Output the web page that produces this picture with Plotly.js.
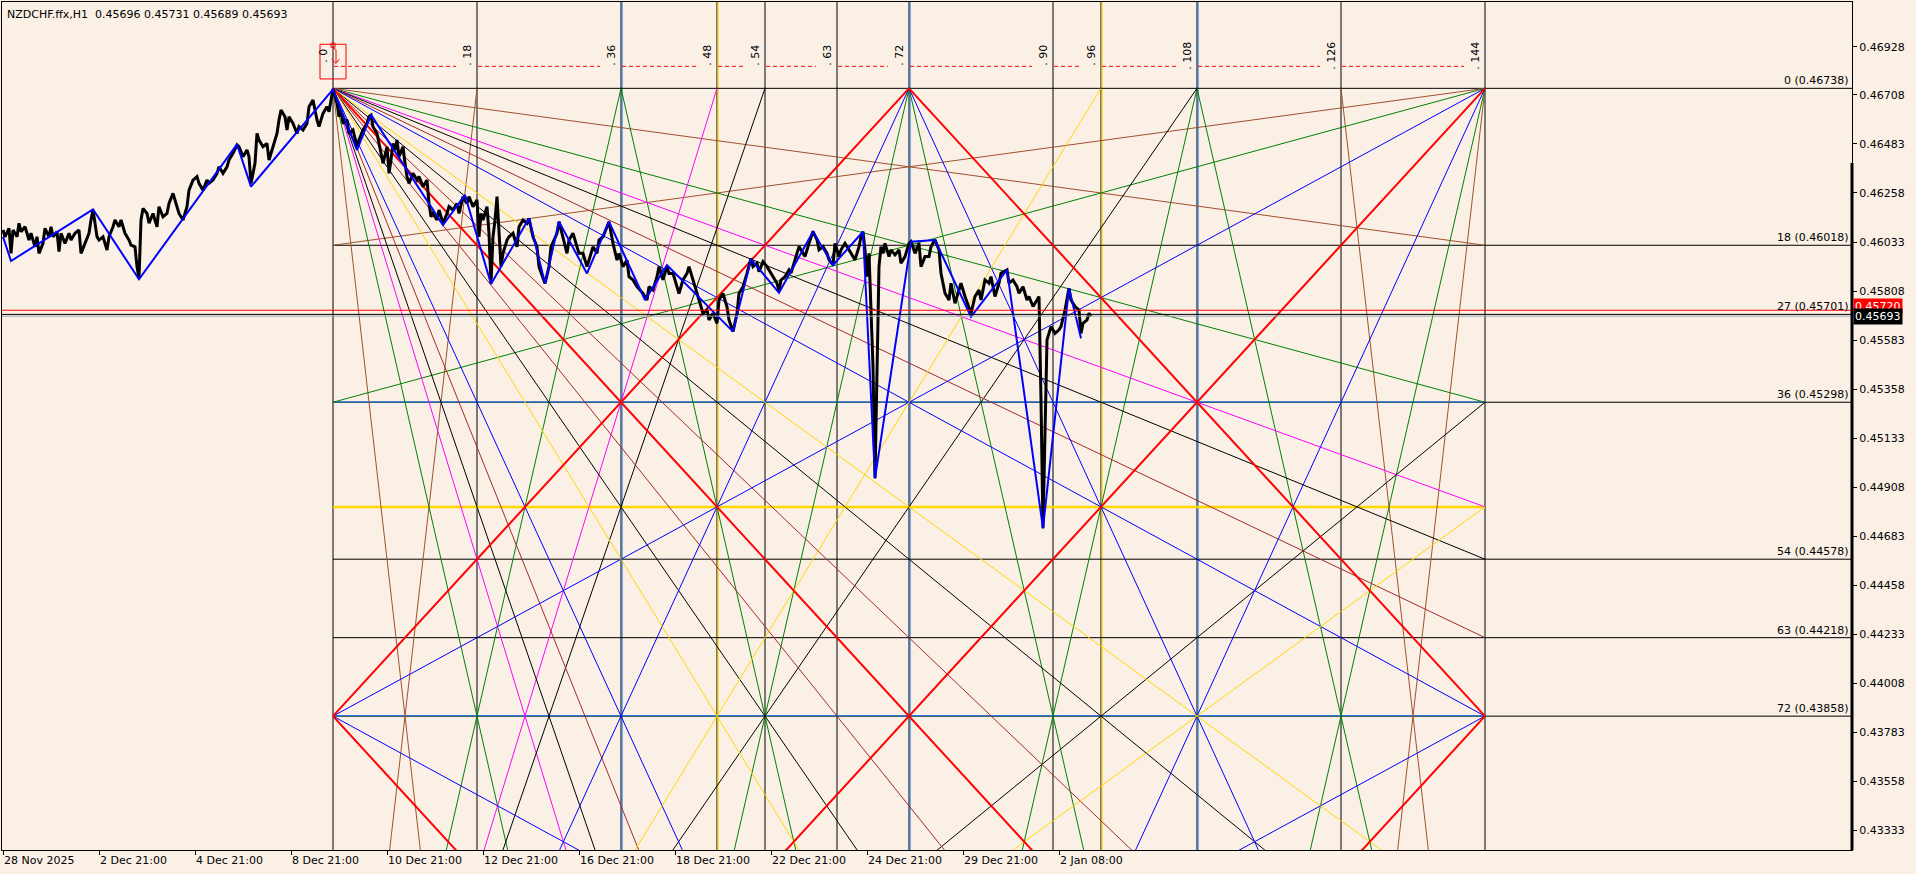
<!DOCTYPE html>
<html><head><meta charset="utf-8">
<script src="https://cdn.plot.ly/plotly-3.0.1.min.js"></script>
<style>html,body{margin:0;padding:0;background:#FAF0E6;}#chart{width:1916px;height:874px;}</style>
</head><body><div id="chart"></div><script>
// ---------- data ----------
const chartTitle = 'NZDCHF.ffx,H1  0.45696 0.45731 0.45689 0.45693';
const xTickBars = [0,48,96,144,192,240,288,336,384,432,480,528];
const xTickLabels = ['28 Nov 2025','2 Dec 21:00','4 Dec 21:00','8 Dec 21:00','10 Dec 21:00','12 Dec 21:00','16 Dec 21:00','18 Dec 21:00','22 Dec 21:00','24 Dec 21:00','29 Dec 21:00','2 Jan 08:00'];
const yTickValues = [0.46928,0.46708,0.46483,0.46258,0.46033,0.45808,0.45583,0.45358,0.45133,0.44908,0.44683,0.44458,0.44233,0.44008,0.43783,0.43558,0.43333];

const closeBars = [0,1,3,4,5,7,8,9,11,13,14,16,17,18,20,21,23,24,25,27,28,29,31,33,34,36,38,39,41,43,44,45,46,47,48,50,52,53,55,56,58,59,61,63,64,66,67,68,69,70,72,73,75,77,78,80,82,83,85,87,88,90,92,93,95,97,98,100,102,103,105,107,108,110,112,113,115,117,118,120,122,123,124,126,127,128,130,132,133,135,137,138,139,141,142,143,145,147,148,150,152,153,155,157,158,160,162,163,164,165,
167,168,169,170,172,173,175,177,178,180,182,183,184,185,187,188,189,190,192,193,194,195,196,197,198,200,201,202,203,205,207,208,210,212,213,214,215,217,218,220,222,223,225,227,228,230,232,233,235,237,238,239,240,242,243,244,245,246,247,248,249,250,252,253,255,257,258,260,262,263,264,265,267,268,271,273,274,277,278,280,282,283,285,287,288,290,292,293,295,297,298,300,303,305,307,308,310,312,313,315,317,320,322,323,325,327,328,330,332,333,335,337,338,340,342,343,345,347,348,350,352,353,355,357,358,360,362,363,365,367,368,370,372,
374,375,377,378,380,382,383,385,387,388,389,391,393,394,396,398,399,401,403,405,407,408,410,412,413,415,416,418,419,421,423,424,426,428,429,430,431,432,433,434,435,436,437,438,439,440,441,443,444,446,448,449,451,453,454,456,458,459,461,463,464,466,468,469,471,473,474,476,478,479,481,483,484,486,488,489,491,493,494,496,498,499,502,503,505,507,508,510,512,513,515,517,518,519,520,521,522,523,524,526,528,529,531,533,534,536,538,539,540,542,543,544];
const closePrices = [0.46088,0.46057,0.46096,0.45981,0.46088,0.46057,0.46119,0.46080,0.46103,0.46042,0.46073,0.46011,0.46057,0.45981,0.46027,0.46096,0.46057,0.46103,0.46057,0.46080,0.45989,0.46073,0.46027,0.46073,0.46042,0.46073,0.46088,0.45981,0.46027,0.46073,0.46134,0.46180,0.46119,0.46057,0.46042,0.46057,0.45996,0.46057,0.46103,0.46134,0.46103,0.46134,0.46073,0.46042,0.46019,0.46011,0.45920,0.45866,0.46134,0.46187,0.46164,0.46119,0.46164,0.46103,0.46195,0.46149,0.46164,0.46210,0.46256,0.46195,0.46164,0.46134,0.46195,0.46271,0.46317,0.46333,0.46302,0.46271,0.46317,0.46302,0.46317,0.46348,0.46378,0.46348,0.46378,0.46409,0.46440,0.46478,0.46470,0.46424,0.46455,0.46424,0.46302,0.46394,0.46531,0.46501,0.46470,0.46485,0.46409,0.46470,0.46531,0.46593,0.46638,0.46608,0.46547,0.46608,0.46577,0.46531,0.46562,0.46547,0.46577,0.46654,0.46684,0.46593,0.46562,0.46623,0.46654,0.46631,0.46684,0.46735,
0.46669,0.46608,0.46638,0.46577,0.46593,0.46531,0.46547,0.46470,0.46501,0.46547,0.46577,0.46608,0.46615,0.46562,0.46531,0.46485,0.46424,0.46394,0.46470,0.46348,0.46409,0.46485,0.46455,0.46501,0.46424,0.46470,0.46394,0.46333,0.46302,0.46348,0.46317,0.46333,0.46287,0.46317,0.46210,0.46149,0.46164,0.46134,0.46180,0.46119,0.46164,0.46195,0.46180,0.46210,0.46164,0.46241,0.46210,0.46241,0.46195,0.46226,0.46057,0.46164,0.46134,0.46195,0.46073,0.45843,0.46057,0.46134,0.46241,0.46073,0.45920,0.45981,0.46042,0.46057,0.46073,0.46011,0.46103,0.46134,0.46119,0.46141,0.46103,0.46057,0.46011,0.45920,0.45843,0.45920,0.46011,0.46073,0.46126,0.46057,0.45981,0.46042,0.46073,0.46011,0.45981,0.45981,0.45920,0.45950,0.46011,0.45981,0.46042,0.46057,0.46126,0.46027,0.45950,0.45981,0.45920,0.45950,0.45874,0.45859,0.45828,0.45797,0.45767,0.45828,0.45813,0.45874,0.45920,0.45859,0.45920,0.45889,0.45889,0.45828,0.45797,0.45859,0.45889,0.45920,0.45859,0.45797,0.45767,0.45706,0.45721,0.45675,0.45706,0.45660,0.45767,0.45797,0.45736,0.45675,0.45622,0.45706,0.45797,0.45828,0.45889,
0.45958,0.45920,0.45935,0.45897,0.45943,0.45920,0.45905,0.45874,0.45844,0.45806,0.45859,0.45874,0.45905,0.45890,0.45951,0.46012,0.45997,0.45966,0.46027,0.46081,0.46043,0.45997,0.46012,0.45981,0.45951,0.45928,0.46027,0.45966,0.45997,0.46027,0.45997,0.45981,0.45951,0.46012,0.46058,0.46081,0.45997,0.45874,0.45981,0.45721,0.45461,0.44949,0.45461,0.45920,0.46012,0.45981,0.46027,0.45966,0.45997,0.45974,0.45997,0.45936,0.45966,0.46027,0.46035,0.45981,0.46027,0.45920,0.45966,0.45966,0.46012,0.46043,0.45997,0.45890,0.45798,0.45767,0.45844,0.45752,0.45813,0.45844,0.45783,0.45737,0.45706,0.45783,0.45813,0.45767,0.45859,0.45844,0.45874,0.45783,0.45844,0.45890,0.45905,0.45844,0.45859,0.45828,0.45798,0.45828,0.45767,0.45783,0.45737,0.45767,0.45783,0.45309,0.44720,0.45156,0.45584,0.45614,0.45645,0.45614,0.45630,0.45645,0.45721,0.45821,0.45767,0.45737,0.45721,0.45614,0.45660,0.45676,0.45706,0.45693];

const zigzagBars = [0,4,45,68,117,124,165,177,184,220,231,244,263,271,278,292,303,321,332,365,374,388,405,415,430,436,454,466,484,502,520,533,539];
const zigzagPrices = [0.46057,0.45946,0.46183,0.45862,0.46481,0.46287,0.46733,0.46455,0.46616,0.46111,0.46249,0.45840,0.46142,0.45843,0.46126,0.45889,0.46126,0.45767,0.45927,0.45622,0.45954,0.45800,0.46080,0.45927,0.46080,0.44949,0.46034,0.46042,0.45690,0.45905,0.44720,0.45821,0.45591];

// Gann square anchor (pivot high) and scale
const gannAnchorBar = 165, gannBarsPerUnit = 4, gannTopPrice = 0.46738, gannPriceStep = 0.0004;
const gannTimeLevels = [0,18,36,48,54,63,72,90,96,108,126,144];
const gannPriceLevels = [0,18,36,54,63,72];
const gannPriceValues = [0.46738,0.46018,0.45298,0.44578,0.44218,0.43858];
const extraLevelName = 27, extraLevelPrice = 0.45701;
const askPrice = 0.45720, bidPrice = 0.45693;
const fanLevels = [18,36,48,54,63,72,96,108,126];
const lowerLeftTopLevels = [18,36,48,54,72,96,108];
const lowerLeftRightLevels = [72,96,108];
const rightCornerLevels = [18,36,72];
const levelColors = {18:'#A0522D',36:'#008000',48:'#FF00FF',54:'#000000',63:'#A52A2A',72:'#0000FF',96:'#FFD700',108:'#000000',126:'#A52A2A',144:'#FF0000'};

// ---------- build ----------
const tBar = t => gannAnchorBar + gannBarsPerUnit*t;
const pPrice = p => gannTopPrice - gannPriceStep*p;
const XMAX = 924.5, XMIN = -0.5;

const segs = [];
function seg(a,b,key){ segs.push([a[0],a[1],b[0],b[1],key]); }
fanLevels.forEach(p=>{ seg([0,0],[144,p],p); seg([0,0],[p,144],p); });
seg([0,0],[144,144],144);
lowerLeftTopLevels.forEach(t=>seg([0,144],[t,0],t));
seg([0,144],[144,0],144);
lowerLeftRightLevels.forEach(p=>seg([0,144],[144,144-p],p));
rightCornerLevels.forEach(p=>{ seg([144,0],[0,p],p); seg([144,0],[144-p,144],p); seg([144,144],[144-p,0],p); });
seg([0,72],[72,0],144); seg([0,72],[72,144],144); seg([144,72],[72,0],144); seg([144,72],[72,144],144);
seg([0,72],[144,144],72);
seg([72,0],[36,144],36); seg([72,0],[108,144],36); seg([72,144],[36,0],36); seg([72,144],[108,0],36);

const groups = {};
segs.forEach(s=>{
  const c = levelColors[s[4]];
  const k = c + (s[4]===144?'|2':'|1');
  if(!groups[k]) groups[k] = {x:[],y:[]};
  groups[k].x.push(tBar(s[0]), tBar(s[2]), null);
  groups[k].y.push(pPrice(s[1]), pPrice(s[3]), null);
});
const traces = [];
Object.keys(groups).forEach(k=>{
  const [c,w] = k.split('|');
  traces.push({type:'scatter',mode:'lines',x:groups[k].x,y:groups[k].y,line:{color:c,width:+w},hoverinfo:'skip',showlegend:false,connectgaps:false});
});
// dashed red label line on top
const dashX=[],dashY=[];
const dashPrice = 0.46839;
for(let i=0;i<gannTimeLevels.length-1;i++){
  dashX.push(tBar(gannTimeLevels[i])+0.5, tBar(gannTimeLevels[i+1])-10.5, null);
  dashY.push(dashPrice, dashPrice, null);
}
traces.push({type:'scatter',mode:'lines',x:dashX,y:dashY,line:{color:'#FF0000',width:1,dash:'4px,3px'},hoverinfo:'skip',showlegend:false});
// price
traces.push({type:'scatter',mode:'lines',x:closeBars,y:closePrices,line:{color:'#000000',width:3},hoverinfo:'skip',showlegend:false});
traces.push({type:'scatter',mode:'lines',x:zigzagBars,y:zigzagPrices,line:{color:'#0000FF',width:2},hoverinfo:'skip',showlegend:false});

const shapes = [];
const annotations = [];
// horizontal levels
gannPriceLevels.forEach((lv,i)=>{
  const pr = gannPriceValues[i];
  shapes.push({type:'line',xref:'x',yref:'y',x0:tBar(0),x1:XMAX,y0:pr,y1:pr,line:{color:'#000',width:1},layer:'below'});
  annotations.push({xref:'paper',x:1,xanchor:'right',xshift:-1,yref:'y',y:pr,yanchor:'bottom',yshift:-1,text:`${lv} (${pr.toFixed(5)})`,showarrow:false,font:{size:11,color:'#000'}});
});
[36,72].forEach(lv=>{ const pr=pPrice(lv); shapes.push({type:'line',xref:'x',yref:'y',x0:tBar(0),x1:tBar(144),y0:pr+0.00002,y1:pr+0.00002,line:{color:'#2A7BD6',width:1.2},layer:'below'}); });
shapes.push({type:'line',xref:'x',yref:'y',x0:tBar(0),x1:tBar(144),y0:pPrice(48),y1:pPrice(48),line:{color:'#FFD700',width:2.5},layer:'below'});
// verticals
gannTimeLevels.forEach(t=>{
  shapes.push({type:'line',xref:'x',yref:'paper',x0:tBar(t),x1:tBar(t),y0:0,y1:1,line:{color:'#000',width:1},layer:'below'});
  let c=null;
  if(t===36||t===72||t===108) c='#2A7BD6';
  if(t===48||t===96) c='#FFD700';
  if(c) shapes.push({type:'line',xref:'x',yref:'paper',x0:tBar(t)+0.5,x1:tBar(t)+0.5,y0:0,y1:1,line:{color:c,width:1.2},layer:'below'});
  annotations.push({xref:'x',x:tBar(t)-4.5,yref:'y',y:0.46888,text:'. '+t,textangle:-90,showarrow:false,font:{size:11,color:'#000'},xanchor:'center',yanchor:'middle'});
});
// current price lines
shapes.push({type:'line',xref:'x',yref:'y',x0:XMIN,x1:XMAX,y0:askPrice,y1:askPrice,line:{color:'#FF0000',width:1}});
shapes.push({type:'line',xref:'x',yref:'y',x0:XMIN,x1:XMAX,y0:extraLevelPrice,y1:extraLevelPrice,line:{color:'#000',width:1}});
shapes.push({type:'line',xref:'x',yref:'y',x0:XMIN,x1:XMAX,y0:bidPrice,y1:bidPrice,line:{color:'#9AA4B0',width:1}});
annotations.push({xref:'paper',x:1,xanchor:'right',xshift:-1,yref:'y',y:extraLevelPrice,yanchor:'bottom',yshift:-1,text:`${extraLevelName} (${extraLevelPrice.toFixed(5)})`,showarrow:false,font:{size:11,color:'#000'}});
// red marker box at anchor
shapes.push({type:'rect',xref:'x',yref:'y',x0:158.5,x1:171.5,y0:0.46781,y1:0.46940,line:{color:'#FF0000',width:1}});
shapes.push({type:'rect',xref:'x',yref:'y',x0:164,x1:166,y0:0.46926,y1:0.46945,line:{color:'#FF0000',width:1}});
shapes.push({type:'path',xref:'x',yref:'y',path:'M 165,0.46926 L 166.5,0.46915 L 166.5,0.46858 M 164.3,0.46872 L 166.5,0.46852 L 168.2,0.46872',line:{color:'#FF0000',width:1}});
// thick right border segment
shapes.push({type:'line',xref:'paper',yref:'y',x0:1,x1:1,y0:0.46395,y1:0.43244,line:{color:'#000',width:3}});
// right price tags
annotations.push({xref:'paper',x:1,xanchor:'left',xshift:1,yref:'y',y:askPrice,yanchor:'middle',yshift:4,text:askPrice.toFixed(5),showarrow:false,bgcolor:'#FF0000',font:{size:11,color:'#FFFFFF'},borderpad:1});
annotations.push({xref:'paper',x:1,xanchor:'left',xshift:1,yref:'y',y:bidPrice,yanchor:'middle',text:bidPrice.toFixed(5),showarrow:false,bgcolor:'#000000',font:{size:11,color:'#FFFFFF'},borderpad:1});
// title
annotations.push({xref:'paper',x:0,xanchor:'left',xshift:3,yref:'paper',y:1,yanchor:'top',yshift:-4,text:chartTitle,showarrow:false,font:{size:11,color:'#000'}});

const layout = {
  width:1916,height:874,
  margin:{l:2,r:64,t:2,b:24,pad:0},
  paper_bgcolor:'#FAF0E6',plot_bgcolor:'#FAF0E6',
  font:{family:'DejaVu Sans',size:11,color:'#000'},
  showlegend:false,
  xaxis:{range:[XMIN,XMAX],tickvals:xTickBars,ticktext:xTickLabels,ticks:'outside',ticklen:4,tickcolor:'#000',ticklabelposition:'outside right',showgrid:false,zeroline:false,showline:true,linecolor:'#000',linewidth:1,mirror:true,fixedrange:true,tickfont:{size:11}},
  yaxis:{range:[0.43244,0.47134],side:'right',tickvals:yTickValues,ticktext:yTickValues.map(v=>v.toFixed(5)),ticks:'outside',ticklen:4,tickcolor:'#000',showgrid:false,zeroline:false,showline:true,linecolor:'#000',linewidth:1,mirror:true,fixedrange:true,tickfont:{size:11}},
  shapes:shapes,annotations:annotations
};
Plotly.newPlot('chart',traces,layout,{staticPlot:true,displayModeBar:false});
</script></body></html>
